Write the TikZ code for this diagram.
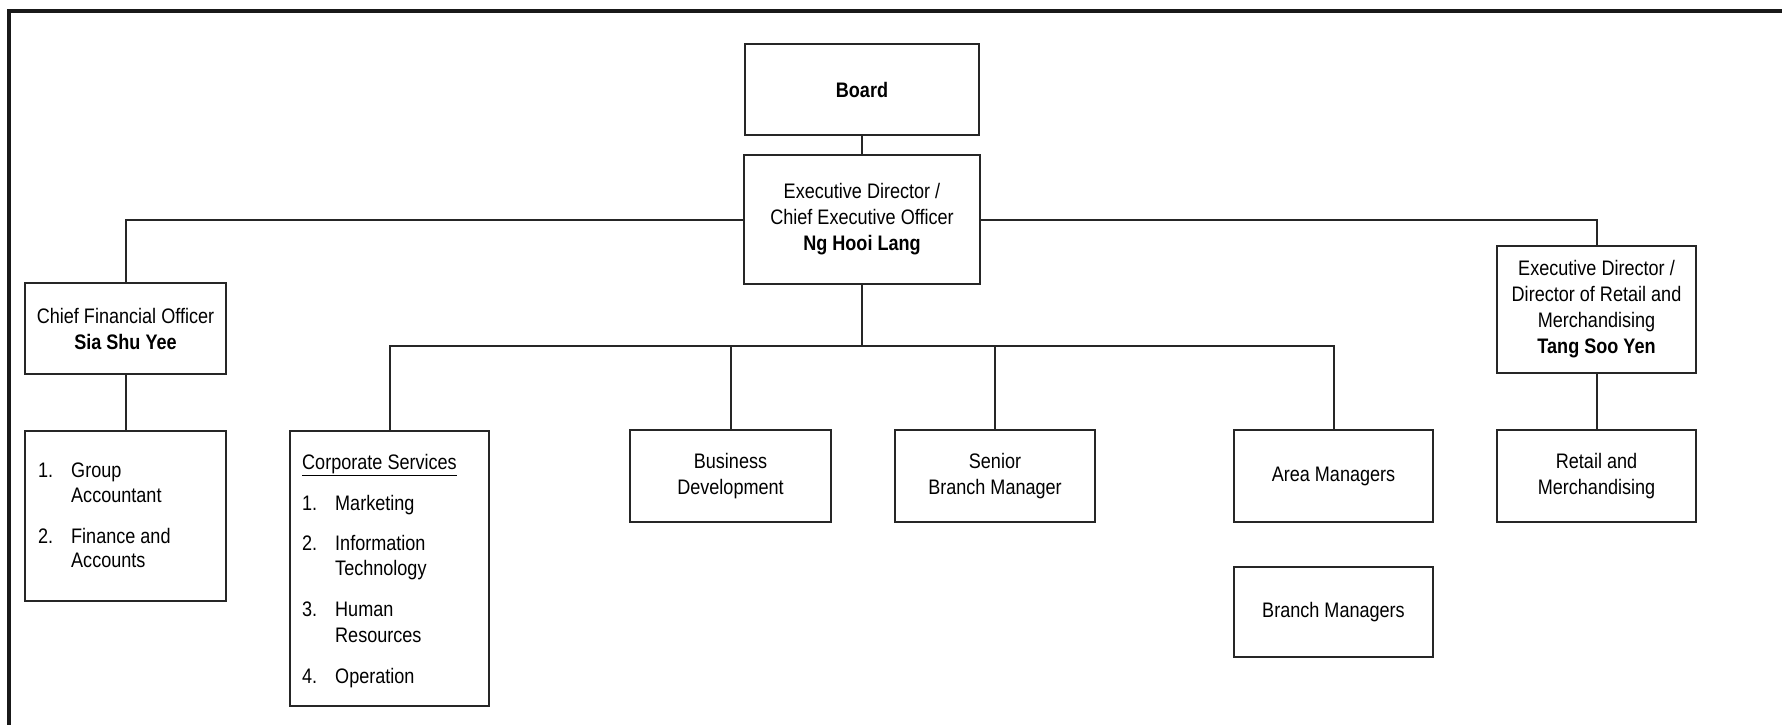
\documentclass[tikz,border=0pt]{standalone}
\usepackage{fontspec}
\setmainfont{Liberation Sans}[FakeStretch=0.86]
\begin{document}
\begin{tikzpicture}[x=1pt,y=-1pt,
  box/.style={draw=black!85, line width=2pt, inner sep=0pt, align=center,
    font=\fontsize{21}{26}\selectfont, text=black},
  itemtxt/.style={anchor=base west, inner sep=0pt, font=\fontsize{21}{26}\selectfont, text=black},
  conn/.style={draw=black!85, line width=2pt},
  frame/.style={draw=black!90, line width=3.8pt}]
\useasboundingbox (0,0) rectangle (1782,725);
\draw[frame] (9,725) -- (9,11) -- (1782,11);

% boxes
\node[box, minimum width=234pt, minimum height=91pt] (board) at (862,89.5) {\textbf{Board}};
\node[box, minimum width=236pt, minimum height=129pt] (ceo) at (862,219.5)
  {Executive Director /\\Chief Executive Officer\\\textbf{Ng Hooi Lang}};
\node[box, minimum width=201pt, minimum height=91pt] (cfo) at (125.5,328.5)
  {Chief Financial Officer\\\textbf{Sia Shu Yee}};
\node[box, minimum width=199pt, minimum height=127pt] (ed) at (1596.5,309.5)
  {Executive Director /\\Director of Retail and\\Merchandising\\\textbf{Tang Soo Yen}};
\node[box, minimum width=201pt, minimum height=170pt] (cfosub) at (125.5,516) {};
\node[box, minimum width=199pt, minimum height=275pt] (corp) at (389.5,568.5) {};
\node[box, minimum width=201pt, minimum height=92pt] (busdev) at (730.5,476)
  {Business\\Development};
\node[box, minimum width=200pt, minimum height=92pt] (senior) at (995,476)
  {Senior\\Branch Manager};
\node[box, minimum width=199pt, minimum height=92pt] (area) at (1333.5,476)
  {Area Managers};
\node[box, minimum width=199pt, minimum height=90pt] (branch) at (1333.5,612)
  {Branch Managers};
\node[box, minimum width=199pt, minimum height=92pt] (retail) at (1596.5,476)
  {Retail and\\Merchandising};

% list texts in CFO sub box
\node[itemtxt] (n1a) at (38,477) {1.};
\node[itemtxt] (t1a) at (71,477) {Group};
\node[itemtxt] (t1b) at (71,502) {Accountant};
\node[itemtxt] (n2a) at (38,543) {2.};
\node[itemtxt] (t2a) at (71,543) {Finance and};
\node[itemtxt] (t2b) at (71,567) {Accounts};

% corporate services list
\node[itemtxt] (cshead) at (302,469) {\underline{Corporate Services}};
\node[itemtxt] (cn1) at (302,510) {1.};
\node[itemtxt] (ct1) at (335,510) {Marketing};
\node[itemtxt] (cn2) at (302,550) {2.};
\node[itemtxt] (ct2a) at (335,550) {Information};
\node[itemtxt] (ct2b) at (335,575) {Technology};
\node[itemtxt] (cn3) at (302,616) {3.};
\node[itemtxt] (ct3a) at (335,616) {Human};
\node[itemtxt] (ct3b) at (335,642) {Resources};
\node[itemtxt] (cn4) at (302,683) {4.};
\node[itemtxt] (ct4) at (335,683) {Operation};

% connectors
\coordinate (bus) at (862,346);
\draw[conn] (board.south) -- (ceo.north);
\draw[conn] (ceo.west) -| (cfo.north);
\draw[conn] (ceo.east) -| (ed.north);
\draw[conn] (cfo.south) -- (cfosub.north);
\draw[conn] (ed.south) -- (retail.north);
\draw[conn] (ceo.south) -- (bus);
\draw[conn] (corp.north) |- (bus) -| (area.north);
\draw[conn] (busdev.north) -- (busdev.north |- bus);
\draw[conn] (senior.north) -- (senior.north |- bus);
\end{tikzpicture}
\end{document}
